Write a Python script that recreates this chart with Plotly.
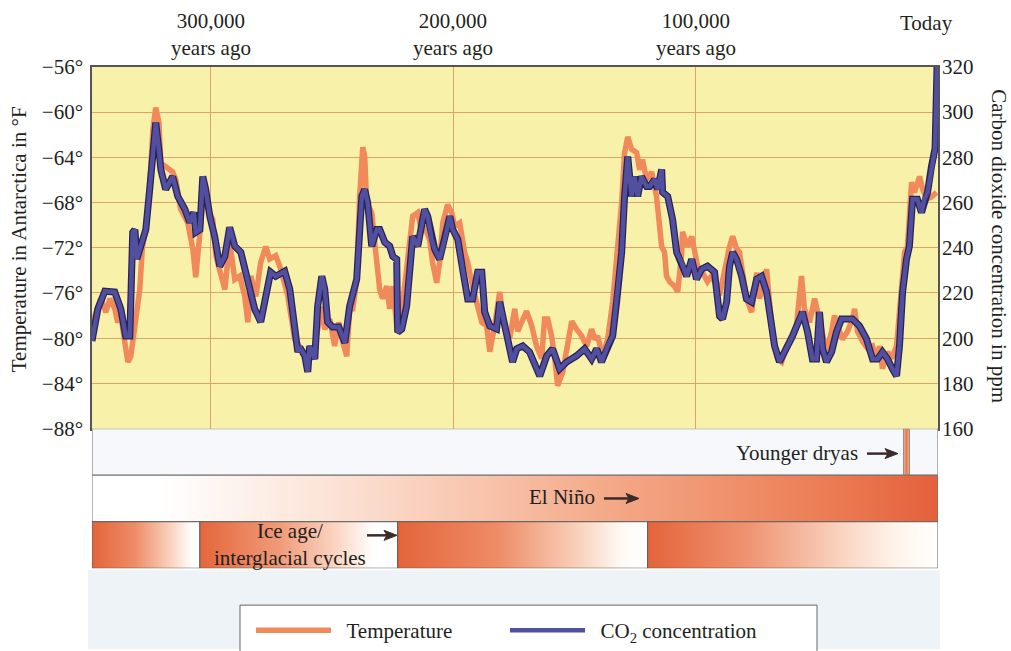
import plotly.graph_objects as go

# ---------------- data ----------------
# temperature (orange): thousands of years ago, degrees F
temp_kyr = [349.0, 347.8, 345.4, 343.3, 341.6, 339.6, 338.4, 337.1, 335.5, 334.2, 333.0, 330.9, 329.3, 328.2,
            326.8, 325.2, 323.9, 322.7, 321.4, 320.6, 318.6, 315.7, 314.4, 312.4, 309.5, 307.4, 306.2, 304.1,
            302.9, 301.2, 299.2, 297.9, 296.3, 294.2, 292.2, 290.1, 288.0, 286.0, 284.7, 283.5, 281.4, 279.4,
            277.3, 275.7, 273.2, 271.1, 268.2, 265.4, 262.9, 260.4, 257.9, 255.9, 254.2, 253.0, 250.9, 248.9,
            247.2, 245.6, 243.9, 242.7, 241.4, 239.8, 238.6, 237.3, 236.5, 235.7, 233.6, 232.4, 230.3, 229.1,
            227.4, 226.2, 224.9, 223.3, 222.1, 220.8, 219.2, 217.9, 216.7, 214.6, 213.0, 211.8, 209.7, 208.5,
            206.8, 205.6, 204.3, 202.3, 200.6, 199.4, 197.3, 195.3, 194.0, 192.0, 190.3, 188.2, 186.2, 184.9,
            182.9, 180.8, 178.8, 176.7, 174.6, 173.4, 171.8, 169.7, 167.6, 165.6, 163.5, 162.3, 161.0, 159.4,
            158.1, 156.9, 154.8, 153.2, 151.1, 149.1, 147.0, 144.9, 142.9, 141.6, 140.4, 138.4, 136.3, 134.2,
            132.2, 130.5, 129.3, 128.0, 126.4, 124.3, 123.1, 121.9, 120.2, 118.1, 116.1, 114.8, 114.0, 112.8,
            112.0, 110.7, 108.7, 107.4, 105.8, 105.4, 103.3, 101.6, 100.4, 99.2, 97.1, 95.1, 93.4, 91.3, 90.1,
            88.0, 86.0, 84.7, 83.1, 81.9, 80.6, 79.0, 76.9, 75.7, 74.8, 73.6, 72.4, 70.7, 69.5, 68.2, 66.2,
            64.5, 62.5, 60.4, 58.4, 57.1, 56.3, 55.1, 53.0, 50.9, 49.7, 48.0, 46.0, 43.9, 42.7, 41.4, 39.4,
            37.3, 35.3, 34.4, 33.2, 31.1, 29.1, 27.0, 25.4, 24.1, 22.9, 20.8, 19.2, 17.1, 15.1, 13.8, 12.6,
            10.9, 9.7, 7.6, 6.4, 4.7, 2.7, 0.6]
temp_f = [-80.1, -78.0, -76.5, -77.7, -76.5, -77.4, -78.6, -78.0, -80.3, -82.1, -81.6, -78.0, -75.7, -71.9,
          -70.4, -66.8, -61.6, -59.6, -60.9, -64.5, -64.8, -65.3, -66.0, -68.6, -69.8, -72.1, -74.6, -70.4,
          -67.1, -68.6, -69.5, -72.7, -73.9, -75.7, -71.5, -74.8, -74.5, -76.3, -78.6, -74.5, -76.3, -73.3,
          -71.9, -73.0, -72.7, -73.9, -76.3, -80.1, -80.9, -81.6, -81.6, -79.2, -77.2, -79.2, -78.3, -80.7,
          -78.6, -80.3, -81.6, -77.4, -77.4, -74.8, -67.5, -63.1, -63.9, -68.0, -68.9, -71.5, -75.7, -76.5,
          -75.4, -77.4, -75.4, -78.9, -79.4, -76.8, -74.2, -71.5, -69.2, -68.9, -70.6, -70.1, -71.3, -73.3,
          -75.1, -73.3, -69.8, -68.2, -68.9, -70.1, -69.8, -72.4, -73.3, -75.4, -76.8, -78.6, -78.9, -81.2,
          -78.9, -75.9, -79.2, -80.0, -77.4, -79.4, -78.6, -77.6, -78.9, -80.7, -81.8, -78.3, -78.3, -79.8,
          -81.8, -84.2, -83.0, -80.7, -78.5, -79.2, -79.8, -80.7, -79.2, -80.1, -79.8, -81.6, -80.1, -76.8,
          -72.4, -68.0, -63.6, -62.2, -63.3, -63.6, -65.1, -64.2, -66.0, -65.3, -67.5, -70.4, -71.9, -72.4,
          -74.5, -75.0, -75.4, -75.9, -72.7, -70.6, -71.9, -71.0, -72.1, -73.6, -74.2, -75.0, -74.5, -75.4, -76.2,
          -73.9, -71.9, -71.0, -72.1, -72.4, -74.5, -76.5, -77.7, -75.4, -74.2, -76.5, -75.4, -73.9, -76.8, -79.8, -81.8,
          -82.1, -80.7, -80.1, -78.9, -76.5, -74.5, -77.4, -78.6, -76.5, -77.7, -79.4, -81.2, -79.4, -78.0, -78.9, -80.1,
          -79.4, -78.3, -77.4, -79.4, -80.3, -80.9, -80.7, -81.8, -80.7, -82.7, -81.2, -81.8, -80.7, -75.9, -72.4, -71.9,
          -66.2, -67.1, -65.7, -66.8, -67.7, -67.5, -67.1]

# CO2 (blue): thousands of years ago, ppm
co2_kyr = [349.0, 346.6, 343.7, 339.6, 337.1, 335.1, 333.4, 332.2, 331.3, 330.5, 328.9, 326.8, 325.2, 323.9,
           322.7, 321.4, 320.6, 318.6, 315.7, 313.6, 310.7, 308.7, 307.0, 306.2, 304.5, 303.3, 302.1, 300.4,
           298.4, 296.3, 294.2, 292.2, 290.1, 287.6, 284.7, 281.9, 279.4, 277.3, 275.3, 273.2, 269.5, 267.4,
           265.4, 264.1, 263.3, 261.2, 260.0, 259.2, 257.1, 255.9, 254.2, 253.0, 251.8, 249.8, 247.2, 244.7,
           242.7, 239.8, 237.7, 236.5, 235.3, 233.6, 231.5, 230.3, 228.2, 226.2, 224.9, 223.3, 222.9, 221.2,
           219.2, 217.9, 216.7, 214.6, 211.8, 210.5, 208.9, 207.6, 205.6, 203.5, 201.4, 200.2, 198.1, 196.1,
           194.0, 192.0, 189.9, 188.2, 187.0, 184.9, 182.1, 180.8, 178.8, 176.7, 175.5, 173.8, 171.3, 168.5,
           164.3, 161.4, 159.0, 156.1, 153.2, 149.1, 145.8, 142.9, 140.8, 138.8, 136.3, 134.2, 132.6, 130.5,
           129.3, 128.0, 126.4, 125.2, 123.9, 122.3, 120.2, 119.0, 116.9, 115.7, 114.0, 113.6, 111.5, 109.5,
           107.8, 105.8, 103.7, 101.6, 99.6, 97.5, 95.1, 92.2, 90.1, 88.9, 87.2, 86.0, 84.7, 83.1, 81.0, 79.0,
           76.9, 74.8, 72.8, 70.7, 69.5, 67.4, 65.4, 62.5, 60.0, 57.1, 55.9, 53.8, 51.8, 50.1, 48.9, 47.6,
           46.0, 43.9, 41.9, 39.8, 37.7, 35.3, 32.4, 29.5, 27.0, 24.9, 22.9, 20.8, 18.8, 17.1, 15.9, 14.6,
           13.0, 11.8, 10.5, 8.5, 6.8, 5.6, 4.3, 2.7, 1.2, 0.4]
co2_ppm = [198.8, 212.9, 220.8, 220.4, 212.9, 201.0, 201.0, 246.8, 248.0, 235.0, 240.7, 248.0, 265.8, 283.4,
           295.3, 283.4, 274.6, 265.8, 271.5, 262.7, 257.0, 251.2, 255.6, 246.8, 248.0, 271.5, 265.8, 253.9,
           245.0, 231.8, 236.2, 249.0, 240.7, 238.0, 226.1, 212.9, 207.2, 218.6, 229.2, 227.4, 229.6, 221.7,
           204.1, 193.9, 196.0, 192.2, 185.1, 196.6, 190.8, 214.2, 227.4, 221.7, 207.2, 205.0, 205.0, 198.0,
           214.2, 226.1, 262.7, 265.8, 260.0, 240.7, 248.1, 248.1, 242.4, 240.7, 236.2, 234.9, 202.7, 204.1,
           214.2, 230.5, 245.0, 240.7, 257.0, 253.9, 243.7, 239.3, 234.9, 243.7, 253.9, 248.1, 243.7, 230.5,
           217.3, 217.3, 229.2, 229.2, 211.6, 205.4, 204.1, 216.0, 205.4, 195.0, 189.5, 195.3, 196.6, 193.9,
           183.3, 192.2, 195.3, 186.4, 189.5, 192.2, 195.3, 190.8, 195.3, 189.5, 196.6, 201.0, 216.0, 238.0,
           262.7, 280.3, 262.7, 271.5, 262.7, 271.5, 267.1, 267.1, 270.2, 265.8, 274.6, 264.5, 262.7, 252.6,
           238.0, 233.6, 227.4, 234.9, 226.1, 230.5, 231.8, 229.2, 209.8, 208.5, 216.0, 231.8, 238.0, 234.9, 227.4, 217.3,
           216.0, 226.1, 227.4, 220.4, 211.6, 196.6, 189.5, 195.3, 201.0, 208.5, 211.6, 202.7, 190.8, 190.8, 211.6, 195.3,
           189.5, 193.9, 202.7, 208.5, 208.5, 208.5, 205.4, 199.7, 190.8, 190.8, 193.9, 190.8, 186.4, 183.3, 196.6, 220.4,
           234.9, 240.7, 261.4, 261.4, 255.6, 261.4, 264.5, 275.9, 284.0, 320.0]

# axis ticks
temp_ticks = [-88, -84, -80, -76, -72, -68, -64, -60, -56]
temp_tick_text = ["−88°", "−84°", "−80°", "−76°", "−72°", "−68°", "−64°", "−60°", "−56°"]
co2_ticks = [160, 180, 200, 220, 240, 260, 280, 300, 320]
time_ticks = [300, 200, 100]
time_labels = ["300,000<br>years ago", "200,000<br>years ago", "100,000<br>years ago"]

# bands below the chart (kyr ago)
ice_starts = [349.0, 304.5, 222.9, 119.8]
ice_ends = [304.5, 222.9, 119.8, 0.0]
dryas_start, dryas_end = 14.2, 11.8

# ---------------- figure ----------------
W, H = 1011, 651
FONT = "Liberation Serif, Times New Roman, serif"
FS = 21
TXT = "#231f20"
X0, X1 = 92, 938        # plot area in pixels
Y0, Y1 = 67, 430
BY1 = 570               # bottom of bands
NB = "\u00a0"

def px(x):
    return x / W

def py(y):
    return 1 - y / H

fig = go.Figure()

# CO2 outline + line
fig.add_trace(go.Scatter(x=co2_kyr, y=co2_ppm, yaxis="y2", mode="lines",
                         line=dict(color="#25235a", width=7), showlegend=False, hoverinfo="skip"))
fig.add_trace(go.Scatter(x=co2_kyr, y=co2_ppm, yaxis="y2", mode="lines",
                         name=NB * 2 + "CO<sub>2</sub> concentration",
                         line=dict(color="#524f9e", width=4.5), legendrank=2))
fig.add_trace(go.Scatter(x=temp_kyr, y=temp_f, mode="lines", name=NB * 2 + "Temperature",
                         line=dict(color="#f08a5b", width=5.5), legendrank=1))

# band rows (row 0 bottom = ice ages, row 1 = El Nino, row 2 = Younger Dryas)
def band(x0, x1, r0, r1, cs=None, fill=None, lc="#6e6e6e"):
    kw = dict(x=[x0, x1, x1, x0, x0], y=[r0, r0, r1, r1, r0], fill="toself", mode="lines",
              line=dict(color=lc, width=1), xaxis="x3", yaxis="y3", showlegend=False, hoverinfo="skip")
    if cs is not None:
        kw["fillgradient"] = dict(type="horizontal", colorscale=cs, start=x0, stop=x1)
    else:
        kw["fillcolor"] = fill
    fig.add_trace(go.Scatter(**kw))

band(349.0, 0.0, 2, 3, fill="#f6f8fb")
band(dryas_start, dryas_end, 2, 3, cs=[[0, "#f3b898"], [0.5, "#e8784c"], [1, "#f3b898"]], lc="#8a8a8a")
band(349.0, 0.0, 1, 2, cs=[[0, "#ffffff"], [0.08, "#ffffff"], [0.3, "#fbe0d2"],
                           [0.6, "#f4ab8a"], [0.85, "#ec8058"], [1, "#e4613a"]])
ice_scales = [
    [[0, "#e4643a"], [0.4, "#ee8d68"], [0.75, "#fad7c4"], [0.93, "#ffffff"], [1, "#ffffff"]],
    [[0, "#e4663c"], [0.4, "#f09a78"], [0.72, "#fcdccb"], [0.88, "#ffffff"], [1, "#ffffff"]],
    [[0, "#e4643a"], [0.4, "#ee8c66"], [0.72, "#f9d0ba"], [0.9, "#fffaf5"], [1, "#ffffff"]],
    [[0, "#e4643a"], [0.35, "#ef9472"], [0.68, "#fad6c3"], [0.85, "#fff3ea"], [1, "#ffffff"]],
]
for s, e, cs in zip(ice_starts, ice_ends, ice_scales):
    band(s, e, 0, 1, cs=cs, lc="#5e5e5e")

grid = "#dea46c"
fig.update_layout(
    width=W, height=H,
    margin=dict(l=0, r=0, t=0, b=0),
    paper_bgcolor="white",
    plot_bgcolor="#f8f1aa",
    font=dict(family=FONT, size=FS, color=TXT),
    xaxis=dict(domain=[px(X0), px(X1)], range=[349, 0], tickvals=time_ticks, showticklabels=False,
               showgrid=True, gridcolor=grid, gridwidth=1, zeroline=False, ticks="",
               showline=True, mirror=True, linecolor="#555555", linewidth=1.5, automargin=False),
    yaxis=dict(domain=[py(Y1), py(Y0)], range=[-88, -56], tickvals=temp_ticks, ticktext=temp_tick_text,
               showgrid=True, gridcolor=grid, gridwidth=1, zeroline=False, ticks="",
               showline=True, mirror=True, linecolor="#555555", linewidth=1.5,
               tickfont=dict(family=FONT, size=FS, color=TXT), ticklabelstandoff=3, automargin=False),
    yaxis2=dict(overlaying="y", side="right", anchor="x", range=[160, 320], tickvals=co2_ticks,
                showgrid=False, zeroline=False, ticks="", showline=False,
                tickfont=dict(family=FONT, size=FS, color=TXT), ticklabelstandoff=3, automargin=False),
    xaxis3=dict(domain=[px(X0), px(X1)], range=[349, 0], anchor="y3", visible=False),
    yaxis3=dict(domain=[py(BY1), py(Y1)], range=[0, 3], anchor="x3", visible=False),
    legend=dict(orientation="h", x=px(251), y=py(612), xanchor="left", yanchor="top",
                bordercolor="rgba(0,0,0,0)", borderwidth=0, bgcolor="rgba(0,0,0,0)",
                font=dict(family=FONT, size=FS, color=TXT), itemwidth=75,
                entrywidth=164, entrywidthmode="pixels"),
    showlegend=True,
)

# light bluish background beneath the bands, and the legend box
fig.add_shape(type="rect", xref="paper", yref="paper", x0=px(88), x1=px(940), y0=0, y1=py(572),
              fillcolor="#eef3f8", line_width=0, layer="below")
fig.add_shape(type="rect", xref="paper", yref="paper", x0=px(240), x1=px(817), y0=py(660), y1=py(607),
              fillcolor="white", line=dict(color="#666666", width=1), layer="below")

# arrows
for (ax0, ax1, ay) in [(867, 898, 455), (604, 639, 500), (367, 397, 537)]:
    fig.add_shape(type="line", xref="paper", yref="paper", x0=px(ax0), x1=px(ax1 - 9), y0=py(ay), y1=py(ay),
                  line=dict(color="#3b2b2b", width=2.5))
    fig.add_shape(type="path", xref="paper", yref="paper",
                  path=f"M {px(ax1)},{py(ay)} L {px(ax1 - 13)},{py(ay - 5)} L {px(ax1 - 10)},{py(ay)} "
                       f"L {px(ax1 - 13)},{py(ay + 5)} Z",
                  fillcolor="#3b2b2b", line=dict(color="#3b2b2b", width=1))

def txt(x, y, text, xanchor="center", angle=0, xref="paper"):
    return dict(x=x, xref=xref, y=py(y), yref="paper", text=text, showarrow=False,
                xanchor=xanchor, yanchor="middle", textangle=angle,
                font=dict(family=FONT, size=FS, color=TXT))

ann = []
for v, lab in zip(time_ticks, time_labels):
    ann.append(txt(v, 35, lab, xref="x"))
ann.append(txt(px(926), 23, "Today"))
ann.append(txt(px(19), 240, "Temperature in Antarctica in °F", angle=-90))
ann.append(txt(px(999), 247, "Carbon dioxide concentration in ppm", angle=90))
ann.append(txt(px(860), 454, "Younger dryas", xanchor="right"))
ann.append(txt(px(597), 499, "El Niño", xanchor="right"))
ann.append(txt(px(290), 546, "Ice age/<br>interglacial cycles"))
fig.update_layout(annotations=ann)

fig.write_html("out.html", config={"displayModeBar": False},
               post_script="document.body.style.margin='0';")
